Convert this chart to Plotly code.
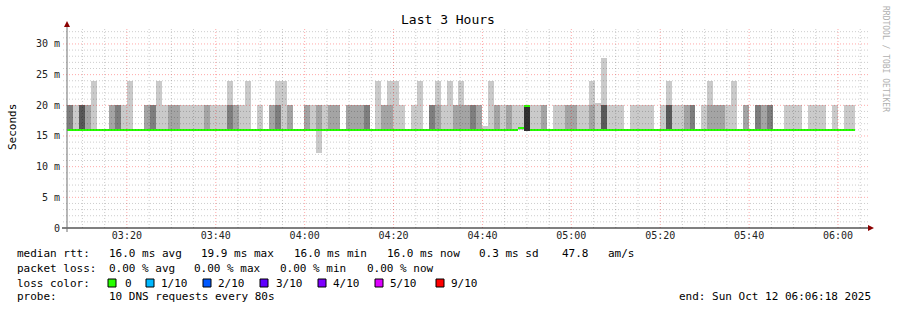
import plotly.graph_objects as go
import pandas as pd

# ---------------- data ----------------
first_step = pd.Timestamp("2025-10-12 03:06:36")   # start of first 80 s step
step_seconds = 80
view_start = pd.Timestamp("2025-10-12 03:06:18")
view_end = pd.Timestamp("2025-10-12 06:06:18")

# how many of the 10 DNS answers per step were in the slow (~20 ms) group
n_slow = [3, 1, 4, 2, 1, 0, 0, 2, 3, 1,
          1, 0, 0, 2, 3, 1, 1, 2, 2, 1,
          1, 1, 1, 2, 1, 1, 1, 3, 2, 1,
          1, 0, 1, 0, 2, 3, 1, 2, 0, 0,
          2, 1, 2, 1, 2, 2, 0, 2, 2, 2,
          3, 0, 1, 2, 2, 1, 1, 0, 1, 1,
          0, 3, 2, 1, 1, 2, 2, 2, 3, 2,
          1, 1, 2, 1, 2, 1, 1, 5, 1, 1,
          2, 0, 1, 1, 2, 2, 1, 1, 2, 1,
          4, 1, 1, 1, 0, 1, 1, 1, 1, 0,
          1, 4, 1, 1, 2, 3, 0, 1, 2, 2,
          2, 1, 1, 0, 2, 0, 3, 2, 3, 0,
          0, 1, 1, 1, 0, 1, 1, 1, 0, 1,
          0, 1, 1]

fast_ms = [16.0] * 77 + [15.8] + [16.0] * 55          # fast group rtt
slow_ms = 20.0                                          # slow group rtt
min_ms = [16.0] * 42 + [12.2] + [16.0] * 34 + [15.8] + [16.0] * 55
max_ms = [20, 20, 20, 20, 23.9, 16, 16, 20, 20, 20,
          23.9, 16, 16, 20, 20, 23.9, 20, 20, 20, 20,
          20, 20, 20, 20, 20, 20, 20, 23.9, 20, 20,
          23.9, 16, 20, 16, 20, 23.9, 23.9, 20, 16, 16,
          20, 20, 20, 20, 20, 20, 16, 20, 20, 20,
          20, 16, 23.9, 20, 23.9, 23.9, 20, 16, 20, 23.9,
          16, 20, 23.9, 20, 23.9, 20, 23.9, 20, 20, 20,
          16.6, 23.9, 20, 20, 20, 20, 20, 20, 20, 20,
          20, 16, 20, 20, 20, 20, 20, 20, 23.9, 20.3,
          27.7, 20, 20, 20, 16, 20, 20, 20, 20, 16,
          20, 23.9, 20, 20, 20, 20, 16, 20, 23.9, 20,
          20, 20, 23.9, 16, 20, 16, 20, 20, 20, 16,
          16, 20, 20, 20, 16, 20, 20, 20, 16, 20,
          16, 20, 20]
median_ms = [16.0] * 76 + [16.2, 19.9] + [16.0] * 55

y_tick_vals = [0, 5, 10, 15, 20, 25, 30]
y_tick_text = ["0", "5 m", "10 m", "15 m", "20 m", "25 m", "30 m"]
x_tick_text = ["03:20", "03:40", "04:00", "04:20", "04:40", "05:00", "05:20", "05:40", "06:00"]

stats_rtt = ["16.0 ms avg", "19.9 ms max", "16.0 ms min", "16.0 ms now", "0.3 ms sd", "47.8", "am/s"]
stats_loss = ["0.00 % avg", "0.00 % max", "0.00 % min", "0.00 % now"]
loss_labels = ["0", "1/10", "2/10", "3/10", "4/10", "5/10", "9/10"]
loss_colors = ["#26ff00", "#00b8ff", "#0059ff", "#5e00ff", "#7e00ff", "#dd00ff", "#ff0000"]
probe_text = "10 DNS requests every 80s"
end_text = "end: Sun Oct 12 06:06:18 2025"

# ---------------- build ----------------
W, H = 897, 310
L, R, T, B = 66, 31, 28, 82
PW, PH = W - L - R, H - T - B
Y_MAX = 32.6
FONT = "DejaVu Sans Mono"


def px(xp):
    return (xp - L) / PW


def py(yp):
    return (T + PH - yp) / PH


times = [first_step + pd.Timedelta(seconds=step_seconds * k) for k in range(len(n_slow))]
pings = []
for k in range(len(n_slow)):
    n = n_slow[k]
    p = [fast_ms[k]] * (10 - n) + [slow_ms] * n
    p[0] = min_ms[k]
    p[-1] = max_ms[k]
    pings.append(p)

smoke_colors = ["#cacaca", "#a4a4a4", "#7e7e7e", "#585858", "#323232"]
fig = go.Figure()
for i in range(5):
    bases, heights = [], []
    for p in pings:
        lo, hi = p[i], p[9 - i]
        bases.append(lo)
        heights.append(hi - lo if hi > lo else None)
    fig.add_trace(go.Bar(x=times, y=heights, base=bases, width=step_seconds * 1000, offset=0,
                         marker=dict(color=smoke_colors[i], line=dict(width=0)),
                         hoverinfo="skip", showlegend=False))

med_thick = 0.33
fig.add_trace(go.Bar(x=times, y=[med_thick] * len(median_ms),
                     base=[m - 0.12 for m in median_ms], width=step_seconds * 1000, offset=0,
                     marker=dict(color=loss_colors[0], line=dict(width=0)),
                     hoverinfo="skip", showlegend=False))

shapes = []
minor_col = "rgba(0,0,0,0.2)"
major_col = "rgba(255,0,0,0.34)"
dash = "1px,2px"
x_major = pd.date_range("2025-10-12 03:20", "2025-10-12 06:00", freq="20min")
x_minor = pd.date_range("2025-10-12 03:10", "2025-10-12 06:05", freq="5min")
for t in x_minor:
    col = major_col if t in x_major else minor_col
    shapes.append(dict(type="line", xref="x", yref="paper", x0=t, x1=t, y0=0, y1=1,
                       line=dict(color=col, width=1, dash=dash), layer="above"))
for v in range(1, 33):
    col = major_col if v % 5 == 0 else minor_col
    shapes.append(dict(type="line", xref="paper", yref="y", x0=px(63), x1=1.003, y0=v, y1=v,
                       line=dict(color=col, width=1, dash=dash), layer="above"))

# axes lines and arrows
shapes.append(dict(type="line", xref="paper", yref="paper", x0=px(62), x1=px(869), y0=0, y1=0,
                   line=dict(color="#000000", width=1), layer="above"))
shapes.append(dict(type="line", xref="paper", yref="paper", x0=px(67), x1=px(67), y0=py(232), y1=py(24),
                   line=dict(color="#707070", width=1), layer="above"))
arrow_col = "#8b0000"
shapes.append(dict(type="path", xref="paper", yref="paper",
                   path=f"M {px(67)},{py(21)} L {px(64)},{py(27)} L {px(70)},{py(27)} Z",
                   fillcolor=arrow_col, line=dict(width=0), layer="above"))
shapes.append(dict(type="path", xref="paper", yref="paper",
                   path=f"M {px(874)},{py(228)} L {px(868)},{py(225)} L {px(868)},{py(231)} Z",
                   fillcolor=arrow_col, line=dict(width=0), layer="above"))

annotations = []


def txt(s, xp, yp, size=11, color="#000000", anchor="left", angle=0):
    annotations.append(dict(text=s, x=px(xp), y=py(yp), xref="paper", yref="paper",
                            xanchor=anchor, yanchor="middle", showarrow=False, borderpad=0,
                            textangle=angle, font=dict(family=FONT, size=size, color=color)))


# y tick labels, placed at their values on the y axis
for v, s in zip(y_tick_vals, y_tick_text):
    annotations.append(dict(text=s, x=px(61), y=v, xref="paper", yref="y",
                            xanchor="right", yanchor="middle", showarrow=False, borderpad=0,
                            font=dict(family=FONT, size=10, color="#222222")))

txt("Last 3 Hours", 448, 19, size=13, anchor="center")
txt("Seconds", 12, 127, size=11, anchor="center", angle=-90)
txt("RRDTOOL / TOBI OETIKER", 886, 59, size=8, color="#b0b0b0", anchor="center", angle=90)

y1, y2, y3, y4 = 254, 268, 283, 296
txt("median rtt:", 16, y1)
for s, xp in zip(stats_rtt, [107.7, 200.3, 293.3, 386, 478.3, 561, 606.7]):
    txt(s, xp, y1)
txt("packet loss:", 16, y2)
for s, xp in zip(stats_loss, [107.7, 193.3, 279.3, 365.7]):
    txt(s, xp, y2)
txt("loss color:", 16, y3)
box_x = [108, 146, 203, 260, 318, 375, 436]
lab_x = [124, 160, 217, 275, 332, 389, 450]
for lab, col, bx, lx in zip(loss_labels, loss_colors, box_x, lab_x):
    shapes.append(dict(type="rect", xref="paper", yref="paper", x0=px(bx), x1=px(bx + 8),
                       y0=py(279), y1=py(287), fillcolor=col, line=dict(color="#000000", width=1)))
    txt(lab, lx, y3)
txt("probe:", 16, y4)
txt(probe_text, 107.7, y4)
txt(end_text, 678, y4)

fig.update_layout(
    width=W, height=H,
    margin=dict(l=L, r=R, t=T, b=B, pad=0),
    paper_bgcolor="#ffffff", plot_bgcolor="#ffffff",
    barmode="overlay", bargap=0,
    showlegend=False,
    shapes=shapes, annotations=annotations,
    xaxis=dict(type="date", range=[view_start, view_end], showgrid=False, zeroline=False,
               showline=False, tickmode="array", tickvals=list(x_major), ticktext=x_tick_text,
               ticks="", tickfont=dict(family=FONT, size=10, color="#222222"), fixedrange=True),
    yaxis=dict(range=[0, Y_MAX], showgrid=False, zeroline=False, showline=False,
               showticklabels=False, ticks="", fixedrange=True),
)

fig.write_html("out.html", config={"displayModeBar": False})
